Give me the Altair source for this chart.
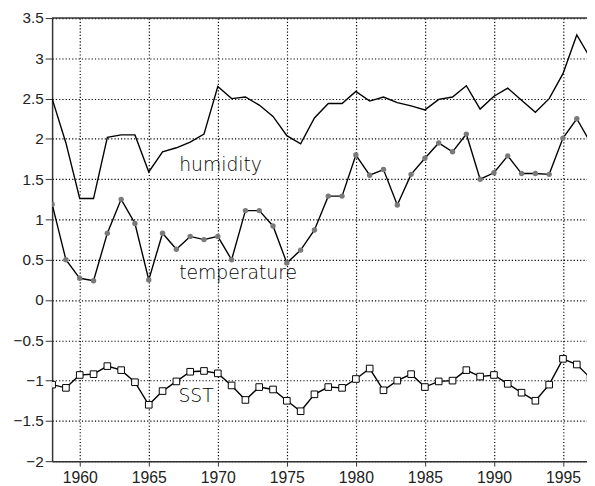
import altair as alt
import pandas as pd

years = list(range(1958, 1998))
humidity = [2.50, 1.95, 1.26, 1.26, 2.02, 2.05, 2.05, 1.59, 1.84, 1.89,
            1.96, 2.06, 2.65, 2.50, 2.52, 2.42, 2.28, 2.04, 1.94, 2.26,
            2.44, 2.44, 2.59, 2.47, 2.52, 2.45, 2.41, 2.36, 2.49, 2.52,
            2.66, 2.37, 2.53, 2.63, 2.48, 2.33, 2.50, 2.81, 3.29, 3.00]
temperature = [1.19, 0.50, 0.27, 0.24, 0.83, 1.25, 0.95, 0.25, 0.83, 0.63,
               0.79, 0.75, 0.79, 0.50, 1.11, 1.11, 0.92, 0.46, 0.62, 0.87,
               1.29, 1.29, 1.80, 1.55, 1.62, 1.18, 1.56, 1.76, 1.95, 1.84,
               2.06, 1.50, 1.58, 1.79, 1.57, 1.57, 1.56, 2.01, 2.25, 1.95]
sst = [-1.05, -1.09, -0.93, -0.92, -0.82, -0.87, -1.02, -1.30, -1.13, -1.01,
       -0.89, -0.88, -0.91, -1.06, -1.24, -1.08, -1.11, -1.25, -1.38, -1.17,
       -1.08, -1.09, -0.98, -0.85, -1.12, -1.00, -0.92, -1.08, -1.01, -1.00,
       -0.87, -0.95, -0.93, -1.04, -1.15, -1.25, -1.05, -0.73, -0.80, -0.97]

x_ticks = [1960, 1965, 1970, 1975, 1980, 1985, 1990, 1995]
y_ticks = [-2, -1.5, -1, -0.5, 0, 0.5, 1, 1.5, 2, 2.5, 3, 3.5]

label_names = ["humidity", "temperature", "SST"]
label_years = [1967.2, 1967.2, 1967.15]
label_values = [1.60, 0.26, -1.26]

df_h = pd.DataFrame({"year": years, "value": humidity})
df_t = pd.DataFrame({"year": years, "value": temperature})
df_s = pd.DataFrame({"year": years, "value": sst})
df_lab = pd.DataFrame({"year": label_years, "value": label_values, "name": label_names})
df_top = pd.DataFrame({"value": [3.5]})

xscale = alt.Scale(domain=[1958, 1996.74], nice=False, zero=False)
yscale = alt.Scale(domain=[-2, 3.5], nice=False, zero=False)

xax = alt.Axis(values=x_ticks, format="d", title=None, grid=True,
               gridColor="black", gridDash=[1.2, 2.1], gridWidth=1.2, gridOpacity=1,
               domainColor="#333", domainWidth=1.5, tickColor="#333", tickSize=5,
               labelFont="Liberation Sans", labelFontSize=16, labelColor="#222",
               labelPadding=4, labelFlush=False)
yax = alt.Axis(values=y_ticks, format=".1~f", title=None, grid=True,
               gridColor="black", gridDash=[1.2, 2.1], gridWidth=1.2, gridOpacity=1,
               domainColor="#333", domainWidth=1.5, tickColor="#333", tickSize=7,
               labelFont="Liberation Sans", labelFontSize=15.5, labelColor="#222",
               labelPadding=2, labelFlush=False)

X = alt.X("year:Q", scale=xscale, axis=xax)
Y = alt.Y("value:Q", scale=yscale, axis=yax)

h_line = alt.Chart(df_h).mark_line(color="black", strokeWidth=1.4, clip=True).encode(x=X, y=Y)
t_line = alt.Chart(df_t).mark_line(color="black", strokeWidth=1.4, clip=True).encode(x=X, y=Y)
t_pts = alt.Chart(df_t).mark_point(shape="circle", filled=True, color="#7a7a7a",
                                   size=30, opacity=1, clip=True).encode(x=X, y=Y)
s_line = alt.Chart(df_s).mark_line(color="black", strokeWidth=1.4, clip=True).encode(x=X, y=Y)
s_pts = alt.Chart(df_s).mark_point(shape="square", filled=False, fill="white", fillOpacity=1,
                                   stroke="black", strokeWidth=1, size=45, opacity=1,
                                   clip=True).encode(x=X, y=Y)
labels = alt.Chart(df_lab).mark_text(align="left", baseline="alphabetic", font="DejaVu Sans",
                                     fontSize=19, fontWeight=200, color="black").encode(
    x=X, y=Y, text="name:N")
top = alt.Chart(df_top).mark_rule(color="#333", strokeWidth=1.5).encode(y=Y)

chart = alt.layer(h_line, t_line, t_pts, s_line, s_pts, labels, top).properties(
    width=542, height=449,
    autosize=alt.AutoSizeParams(type="none"),
    padding={"left": 44.7, "top": 7, "right": 0, "bottom": 26},
).configure_view(stroke=None)

chart.save("out.html", embed_options={"renderer": "svg", "actions": False})
